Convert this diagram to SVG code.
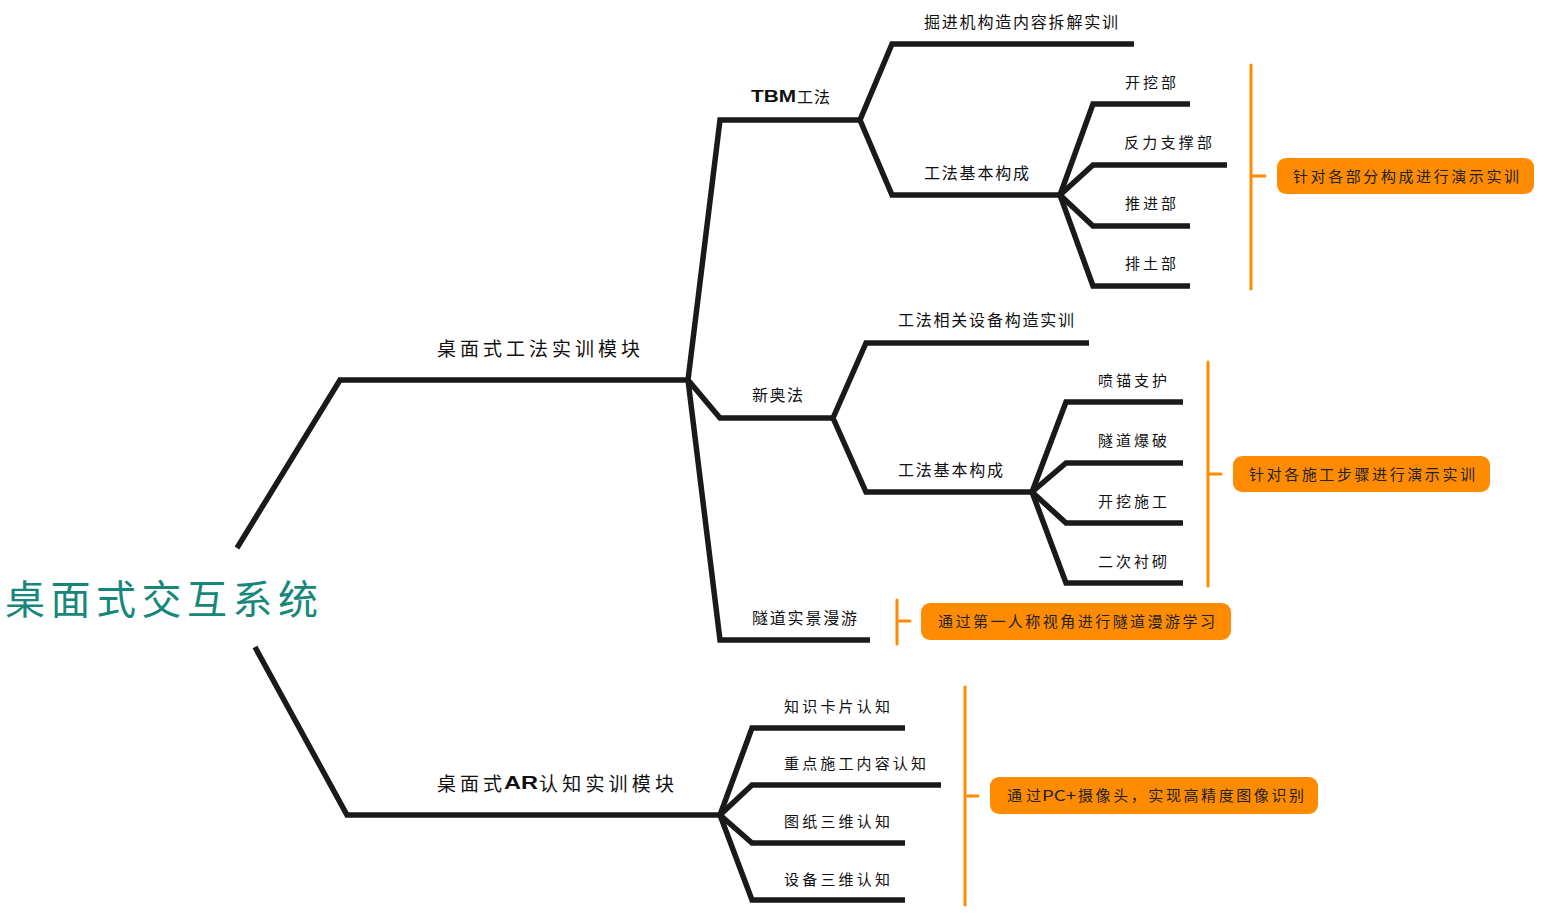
<svg xmlns="http://www.w3.org/2000/svg" width="1547" height="913" viewBox="0 0 1547 913">
<style>
.c{fill:none;stroke:#1a1a1a;stroke-width:5.5;stroke-linejoin:miter}
.b{fill:none;stroke:#ff8c00;stroke-width:3;stroke-linecap:round}
.bx{fill:#ff8c00}
text{font-family:"Noto Sans CJK SC","Noto Sans",sans-serif;dominant-baseline:central;fill:#111}
.lat{font-family:"Liberation Sans",Arial,sans-serif;font-weight:bold}
.l1{font-size:19px}
.l2{font-size:16px}
.l3{font-size:15px}
.n{font-size:15px;fill:#222}
.r{font-size:40px;fill:#16877a}
</style>
<rect width="1547" height="913" fill="#fff"/>
<g id="connectors">
<path class="c" d="M237,548 L340,380 L688,380"/>
<path class="c" d="M255,647 L347,815 L720,815"/>
<path class="c" d="M688,380 L720,120 L860,120"/>
<path class="c" d="M688,380 L720,418 L833,418"/>
<path class="c" d="M688,380 L720,640 L870,640"/>
<path class="c" d="M860,120 L892,44 L1134,44"/>
<path class="c" d="M860,120 L892,195 L1060,195"/>
<path class="c" d="M1060,195 L1093,104 L1190,104"/>
<path class="c" d="M1060,195 L1093,165 L1227,165"/>
<path class="c" d="M1060,195 L1093,226 L1190,226"/>
<path class="c" d="M1060,195 L1093,286 L1190,286"/>
<path class="c" d="M833,418 L866,343 L1089,343"/>
<path class="c" d="M833,418 L866,492 L1032,492"/>
<path class="c" d="M1032,492 L1066,402 L1183,402"/>
<path class="c" d="M1032,492 L1066,463 L1183,463"/>
<path class="c" d="M1032,492 L1066,523 L1183,523"/>
<path class="c" d="M1032,492 L1066,583 L1183,583"/>
<path class="c" d="M720,815 L752,728 L905,728"/>
<path class="c" d="M720,815 L752,785 L941,785"/>
<path class="c" d="M720,815 L752,843 L905,843"/>
<path class="c" d="M720,815 L752,900 L905,900"/>
<path class="b" d="M1251,65 L1251,289 M1251,176 L1265,176"/>
<path class="b" d="M1208,362 L1208,586 M1208,474 L1221,474"/>
<path class="b" d="M897,600 L897,644 M897,621 L910,621"/>
<path class="b" d="M965,687 L965,905 M965,796 L978,796"/>
</g>
<g id="root"><text class="r" x="5" y="597" textLength="313" lengthAdjust="spacing">桌面式交互系统</text></g>
<g id="n-gongfa"><text class="l1" x="437" y="347" textLength="203" lengthAdjust="spacing">桌面式工法实训模块</text></g>
<g id="n-ar"><text class="l1" x="437" y="782" textLength="65" lengthAdjust="spacing">桌面式</text><text class="l1 lat" x="504" y="782" textLength="34" lengthAdjust="spacingAndGlyphs">AR</text><text class="l1" x="539" y="782" textLength="135" lengthAdjust="spacing">认知实训模块</text></g>
<g id="n-tbm"><text class="l2 lat" x="751" y="96" textLength="45" lengthAdjust="spacingAndGlyphs">TBM</text><text class="l2" x="797" y="96" textLength="33" lengthAdjust="spacing">工法</text></g>
<g id="n-xaf"><text class="l2" x="752" y="394" textLength="51" lengthAdjust="spacing">新奥法</text></g>
<g id="n-sdsj"><text class="l2" x="752" y="617" textLength="105" lengthAdjust="spacing">隧道实景漫游</text></g>
<g id="n-jjj"><text class="l2" x="924" y="21" textLength="194" lengthAdjust="spacing">掘进机构造内容拆解实训</text></g>
<g id="n-gfjb1"><text class="l2" x="924" y="172" textLength="105" lengthAdjust="spacing">工法基本构成</text></g>
<g id="n-kwb"><text class="l3" x="1125" y="81" textLength="51" lengthAdjust="spacing">开挖部</text></g>
<g id="n-flzc"><text class="l3" x="1124" y="141" textLength="88" lengthAdjust="spacing">反力支撑部</text></g>
<g id="n-tjb"><text class="l3" x="1125" y="202" textLength="51" lengthAdjust="spacing">推进部</text></g>
<g id="n-ptb"><text class="l3" x="1125" y="262" textLength="51" lengthAdjust="spacing">排土部</text></g>
<g id="n-gfxg"><text class="l2" x="898" y="319" textLength="176" lengthAdjust="spacing">工法相关设备构造实训</text></g>
<g id="n-gfjb2"><text class="l2" x="898" y="469" textLength="105" lengthAdjust="spacing">工法基本构成</text></g>
<g id="n-pmzh"><text class="l3" x="1098" y="379" textLength="69" lengthAdjust="spacing">喷锚支护</text></g>
<g id="n-sdbp"><text class="l3" x="1098" y="439" textLength="69" lengthAdjust="spacing">隧道爆破</text></g>
<g id="n-kwsg"><text class="l3" x="1098" y="500" textLength="69" lengthAdjust="spacing">开挖施工</text></g>
<g id="n-ecc"><text class="l3" x="1098" y="560" textLength="69" lengthAdjust="spacing">二次衬砌</text></g>
<g id="n-zskp"><text class="l3" x="784" y="705" textLength="106" lengthAdjust="spacing">知识卡片认知</text></g>
<g id="n-zdsg"><text class="l3" x="784" y="762" textLength="142" lengthAdjust="spacing">重点施工内容认知</text></g>
<g id="n-tzsw"><text class="l3" x="784" y="820" textLength="106" lengthAdjust="spacing">图纸三维认知</text></g>
<g id="n-sbsw"><text class="l3" x="784" y="878" textLength="106" lengthAdjust="spacing">设备三维认知</text></g>
<g id="note-1"><rect class="bx" x="1277" y="158" width="257" height="36" rx="9"/><text class="n" x="1293" y="175" textLength="226" lengthAdjust="spacing">针对各部分构成进行演示实训</text></g>
<g id="note-2"><rect class="bx" x="1233" y="456" width="257" height="36" rx="9"/><text class="n" x="1249" y="473" textLength="226" lengthAdjust="spacing">针对各施工步骤进行演示实训</text></g>
<g id="note-3"><rect class="bx" x="921" y="603" width="310" height="37" rx="9"/><text class="n" x="938" y="620" textLength="277" lengthAdjust="spacing">通过第一人称视角进行隧道漫游学习</text></g>
<g id="note-4"><rect class="bx" x="990" y="777" width="328" height="37" rx="9"/><text class="n" x="1007" y="794" textLength="34" lengthAdjust="spacing">通过</text><text class="n" x="1042" y="794" font-family="Liberation Sans,Arial,sans-serif" textLength="34" lengthAdjust="spacingAndGlyphs">PC+</text><text class="n" x="1078" y="794" textLength="226" lengthAdjust="spacing">摄像头，实现高精度图像识别</text></g>
</svg>
